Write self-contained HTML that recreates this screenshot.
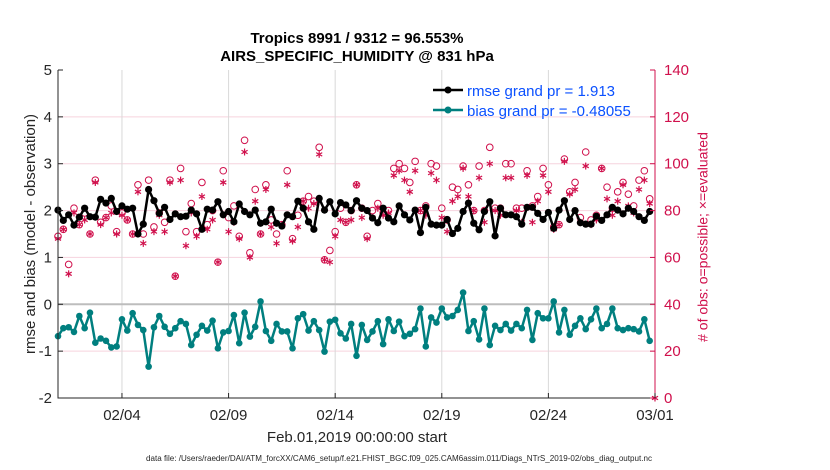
<!DOCTYPE html>
<html><head><meta charset="utf-8"><style>
html,body{margin:0;padding:0;background:#fff;}
svg{display:block;font-family:"Liberation Sans",sans-serif;}
</style></head><body>
<svg id="chart" width="830" height="470" viewBox="0 0 830 470" xmlns="http://www.w3.org/2000/svg">
<rect x="0" y="0" width="830" height="470" fill="#fff"/>
<rect x="58" y="70" width="597" height="328" fill="#fff"/>
<g id="grid"></g>
<g id="series"></g>
<g id="axes"></g>
<text x="357" y="43" text-anchor="middle" font-size="15" font-weight="bold">Tropics 8991 / 9312 = 96.553%</text>
<text x="357" y="61" text-anchor="middle" font-size="15" font-weight="bold">AIRS_SPECIFIC_HUMIDITY @ 831 hPa</text>
<text transform="translate(31,234) rotate(-90)" text-anchor="middle" dominant-baseline="middle" font-size="15" fill="#262626">rmse and bias (model - observation)</text>
<text transform="translate(704,237) rotate(-90)" text-anchor="middle" dominant-baseline="middle" font-size="14" fill="#d0104c"># of obs: o=possible; ×=evaluated</text>
<text x="357" y="442" text-anchor="middle" font-size="15" fill="#262626">Feb.01,2019 00:00:00 start</text>
<text x="399" y="461" text-anchor="middle" font-size="8" fill="#262626" textLength="506" lengthAdjust="spacingAndGlyphs">data file: /Users/raeder/DAI/ATM_forcXX/CAM6_setup/f.e21.FHIST_BGC.f09_025.CAM6assim.011/Diags_NTrS_2019-02/obs_diag_output.nc</text>
<g>
<line x1="433" y1="90" x2="463" y2="90" stroke="#000" stroke-width="2.5"/>
<circle cx="448" cy="90" r="3.5" fill="#000"/>
<text x="467" y="96" font-size="15" fill="#0a50ff">rmse grand pr = 1.913</text>
<line x1="433" y1="110" x2="463" y2="110" stroke="#007f7f" stroke-width="2.5"/>
<circle cx="448" cy="110" r="3.5" fill="#007f7f"/>
<text x="467" y="116" font-size="15" fill="#0a50ff">bias grand pr = -0.48055</text>
</g>
</svg>
<script>
const rmse=[2.01,1.79,1.91,1.69,1.86,2.05,1.87,1.86,2.24,2.16,2.26,1.98,2.10,2.03,2.05,1.50,1.71,2.45,2.21,1.94,2.07,1.81,1.93,1.87,1.88,2.01,1.93,1.60,2.03,
2.01,2.19,1.91,1.98,1.76,2.14,1.98,1.91,2.01,1.73,1.76,2.03,1.73,1.67,1.91,1.87,2.20,2.05,1.76,1.60,2.26,2.01,2.19,1.93,2.17,2.12,2.00,2.21,
2.05,2.00,1.84,1.74,2.05,1.84,1.76,2.10,1.91,1.80,2.01,1.53,2.07,1.71,1.69,1.69,1.81,1.51,1.62,1.98,2.16,1.73,1.59,1.98,2.19,1.46,2.05,1.91,
1.91,1.87,1.71,2.07,2.07,1.94,1.81,1.96,1.62,2.01,2.21,1.81,2.00,1.74,1.71,1.71,1.88,1.79,1.91,2.07,2.01,1.93,2.05,1.98,1.87,1.79,1.98];
const bias=[-0.68,-0.51,-0.49,-0.59,-0.25,-0.51,-0.18,-0.82,-0.73,-0.78,-0.92,-0.90,-0.32,-0.56,-0.19,-0.44,-0.55,-1.33,-0.49,-0.25,-0.48,-0.63,-0.51,-0.36,-0.42,-0.87,-0.65,-0.46,-0.56,
-0.35,-0.94,-0.60,-0.57,-0.23,-0.83,-0.18,-0.69,-0.48,0.06,-0.57,-0.78,-0.42,-0.58,-0.58,-0.94,-0.30,-0.21,-0.56,-0.36,-0.55,-1.01,-0.37,-0.33,-0.62,-0.73,-0.42,-1.10,
-0.44,-0.76,-0.58,-0.36,-0.85,-0.32,-0.57,-0.37,-0.68,-0.63,-0.53,-0.09,-0.90,-0.28,-0.39,-0.09,-0.28,-0.25,-0.12,0.25,-0.57,-0.36,-0.75,-0.09,-0.87,-0.46,-0.55,-0.42,
-0.56,-0.42,-0.51,-0.12,-0.76,-0.19,-0.30,-0.30,0.06,-0.60,-0.12,-0.65,-0.46,-0.30,-0.53,-0.32,-0.09,-0.51,-0.42,-0.09,-0.51,-0.55,-0.51,-0.53,-0.58,-0.32,-0.78];
const possible=[69,72,57,81,74,79,70,93,75,77,82,71,79,76,70,91,70,93,73,79,75,93,52,98,71,83,71,92,74,
80,58,97,77,82,69,110,62,89,70,91,76,70,74,97,68,78,84,86,84,107,59,63,71,81,75,80,91,
81,69,80,83,79,80,98,100,98,92,101,80,82,100,99,81,76,90,89,99,91,80,99,80,107,81,81,100,
100,81,81,97,82,86,98,91,73,74,102,88,92,77,105,76,78,98,90,81,88,92,87,82,93,97,85];
const evaluated=[68,72,53,79,74,76,70,92,74,77,79,70,78,76,70,88,66,89,71,78,71,92,52,93,65,79,69,86,72,
76,58,92,71,75,68,105,60,84,70,89,73,66,74,91,67,73,84,81,83,104,59,58,69,76,75,76,91,
77,68,77,81,78,79,95,97,93,88,97,80,78,96,93,77,71,84,86,98,86,80,94,75,100,80,78,94,
94,80,75,95,75,84,95,88,72,74,101,87,89,75,99,74,76,98,85,78,84,91,82,79,89,93,83];
const yTicks=[-2,-1,0,1,2,3,4,5];
const y2Ticks=[0,20,40,60,80,100,120,140];
const xTickLabels=["02/04","02/09","02/14","02/19","02/24","03/01"];
const xTickDays=[3,8,13,18,23,28];

const NS="http://www.w3.org/2000/svg";
const L=58,R=655,T=70,B=398;
function xDay(d){return L+(R-L)*d/28;}
function xIdx(i){return xDay(i*0.25);}
function yL(v){return B-(v+2)/7*(B-T);}
function yR(v){return B-v/140*(B-T);}
function mk(tag,attrs,parent){const e=document.createElementNS(NS,tag);for(const k in attrs)e.setAttribute(k,attrs[k]);parent.appendChild(e);return e;}
const grid=document.getElementById('grid'),ser=document.getElementById('series'),axes=document.getElementById('axes');

yTicks.forEach(v=>{
  if(v===0||v===5||v===-2)return;
  const g=mk('line',{x1:L,x2:R,y1:yL(v),y2:yL(v),stroke:'#f6d3de','stroke-width':1},grid);
  
  
});
xTickDays.forEach(d=>{
  if(d===28)return;
  const g=mk('line',{x1:xDay(d),x2:xDay(d),y1:T,y2:B,stroke:'#d9d9d9','stroke-width':1},grid);
  
  
});
const zl=mk('line',{x1:L,x2:R,y1:yL(0),y2:yL(0),stroke:'#bdbdbd','stroke-width':2},grid);



// obs count markers
possible.forEach((v,i)=>{
  const c=mk('circle',{cx:xIdx(i),cy:yR(v),r:3.3,fill:'none',stroke:'#d0104c','stroke-width':1},ser);
  
  
});
function star(x,y,parent){
  const g=mk('g',{stroke:'#d0104c','stroke-width':1.2},parent);
  
  
  const r=3.5;
  mk('line',{x1:x,y1:y-r,x2:x,y2:y+r},g);
  mk('line',{x1:x-r*0.87,y1:y-r/2,x2:x+r*0.87,y2:y+r/2},g);
  mk('line',{x1:x-r*0.87,y1:y+r/2,x2:x+r*0.87,y2:y-r/2},g);
}
evaluated.forEach((v,i)=>star(xIdx(i),yR(v),ser));
star(xDay(28),yR(0),ser);

function line(vals,color,name,r){
  const p=mk('polyline',{points:vals.map((v,i)=>xIdx(i)+','+yL(v)).join(' '),fill:'none',stroke:color,'stroke-width':2.5,'stroke-linejoin':'round'},ser);
  
  
  vals.forEach((v,i)=>{
    const c=mk('circle',{cx:xIdx(i),cy:yL(v),r:r,fill:color},ser);
    
    
  });
}
line(bias,'#007f7f','bias',3.3);
line(rmse,'#000','rmse',3.6);

// axes
const ax=mk('path',{d:`M${L},${T}V${B}H${R}`,fill:'none',stroke:'#262626','stroke-width':1},axes);


const ax2=mk('line',{x1:R,y1:T,x2:R,y2:B,stroke:'#d0104c','stroke-width':1},axes);


yTicks.forEach(v=>{
  mk('line',{x1:L,x2:L+5,y1:yL(v),y2:yL(v),stroke:'#262626'},axes);
  const t=mk('text',{x:L-6,y:yL(v)+5,'text-anchor':'end','font-size':15,fill:'#262626'},axes);
  t.textContent=v;
  
  
});
y2Ticks.forEach(v=>{
  mk('line',{x1:R-5,x2:R,y1:yR(v),y2:yR(v),stroke:'#d0104c'},axes);
  const t=mk('text',{x:R+9,y:yR(v)+5,'font-size':15,fill:'#d0104c'},axes);
  t.textContent=v;
  
  
});
xTickDays.forEach((d,i)=>{
  mk('line',{x1:xDay(d),x2:xDay(d),y1:B,y2:B-5,stroke:'#262626'},axes);
  const t=mk('text',{x:xDay(d),y:B+22,'text-anchor':'middle','font-size':15,fill:'#262626'},axes);
  t.textContent=xTickLabels[i];
  
  
});
</script>
</body></html>
